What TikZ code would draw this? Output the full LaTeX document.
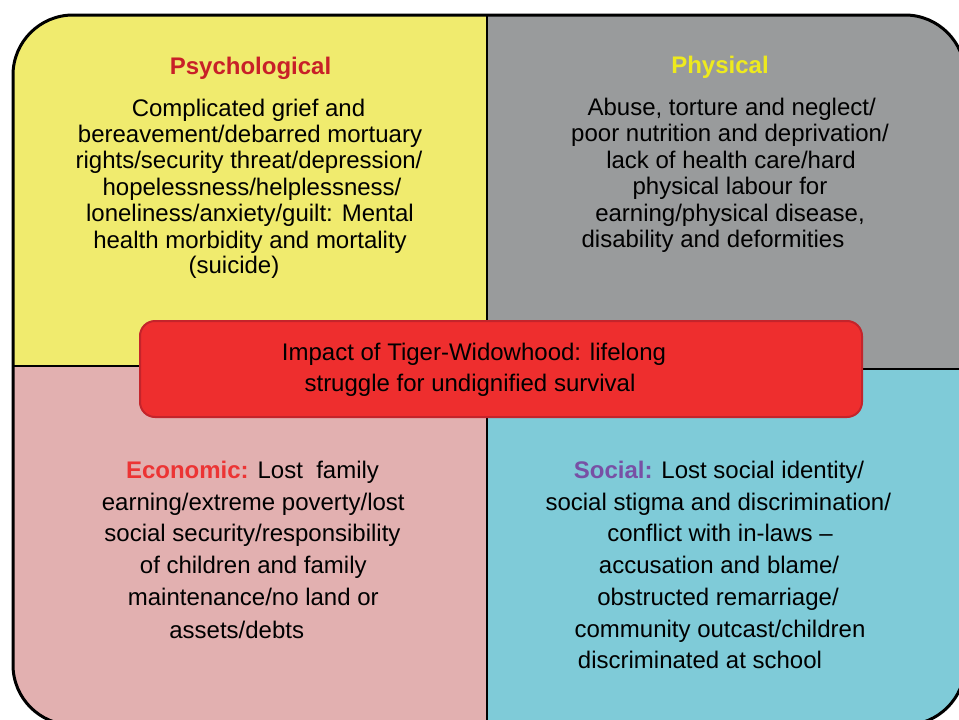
\documentclass[tikz,border=0pt]{standalone}
\usepackage{fontspec}
\setmainfont{Liberation Sans}
\definecolor{qyellow}{RGB}{240,235,110}
\definecolor{qgray}{RGB}{153,155,156}
\definecolor{qpink}{RGB}{226,176,176}
\definecolor{qcyan}{RGB}{127,203,216}
\definecolor{boxred}{RGB}{238,46,46}
\definecolor{boxedge}{RGB}{196,36,43}
\definecolor{psyred}{RGB}{200,32,40}
\definecolor{phyyellow}{RGB}{238,234,30}
\definecolor{ecored}{RGB}{236,52,52}
\definecolor{socpurple}{RGB}{120,80,165}
\begin{document}
\begin{tikzpicture}[x=1pt,y=-1pt,
  txt/.style={anchor=base,inner sep=0pt,font=\fontsize{24}{28}\selectfont},
  ttl/.style={txt,font=\fontsize{24}{28}\selectfont\bfseries},
  divider/.style={line width=2pt,black},
  frameline/.style={line width=3pt,black,rounded corners=60pt}]
\useasboundingbox (0,0) rectangle (959,720);
\clip (0,0) rectangle (959,720);
\begin{scope}
  \clip[rounded corners=60pt] (13,15) rectangle (965,725);
  \fill[qyellow] (13,15) rectangle (487,366);
  \fill[qgray] (487,15) rectangle (965,369);
  \fill[qpink] (13,366) rectangle (487,725);
  \fill[qcyan] (487,369) rectangle (965,725);
  \draw[divider] (487,15) -- (487,725);
  \draw[divider] (13,366) -- (487,366);
  \draw[divider] (487,369) -- (965,369);
\end{scope}
\draw[frameline] (13,15) rectangle (965,725);

% Psychological
\node[ttl,text=psyred] (psyt) at (250.5,74) {Psychological};
\node[txt] (psy1) at (248.5,116) {Complicated grief and};
\node[txt] (psy2) at (250,142.3) {bereavement/debarred mortuary};
\node[txt] (psy3) at (249,168.6) {rights/security threat/depression/};
\node[txt] (psy4) at (252,195) {hopelessness/helplessness/};
\node[txt] (psy5) at (250,221.5) {loneliness/anxiety/guilt: Mental};
\node[txt] (psy6) at (250,248) {health morbidity and mortality};
\node[txt] (psy7) at (234,273.5) {(suicide)};

% Physical
\node[ttl,text=phyyellow] (phyt) at (720,73.3) {Physical};
\node[txt] (phy1) at (731.7,115) {Abuse, torture and neglect/};
\node[txt] (phy2) at (730,141.5) {poor nutrition and deprivation/};
\node[txt] (phy3) at (731,168) {lack of health care/hard};
\node[txt] (phy4) at (730,194.5) {physical labour for};
\node[txt] (phy5) at (730,221) {earning/physical disease,};
\node[txt] (phy6) at (713,247) {disability and deformities};

% Centre box
\node[draw=boxedge,fill=boxred,line width=2pt,rounded corners=15pt,
      minimum width=722pt,minimum height=96pt,inner sep=0pt] (impact) at (501,369) {};
\node[txt] (imp1) at (474,360) {Impact of Tiger-Widowhood: lifelong};
\node[txt] (imp2) at (470,391.7) {struggle for undignified survival};

% Economic
\node[txt] (eco1) at (252.5,478.3) {\textcolor{ecored}{\bfseries Economic:} Lost\ \ family};
\node[txt] (eco2) at (253.3,510) {earning/extreme poverty/lost};
\node[txt] (eco3) at (252.5,541.7) {social security/responsibility};
\node[txt] (eco4) at (253.3,573.3) {of children and family};
\node[txt] (eco5) at (253.3,605) {maintenance/no land or};
\node[txt] (eco6) at (236.7,638) {assets/debts};

% Social
\node[txt] (soc1) at (719,478.3) {\textcolor{socpurple}{\bfseries Social:} Lost social identity/};
\node[txt] (soc2) at (718.3,510) {social stigma and discrimination/};
\node[txt] (soc3) at (720,541.7) {conflict with in-laws –};
\node[txt] (soc4) at (719,573.3) {accusation and blame/};
\node[txt] (soc5) at (718,605) {obstructed remarriage/};
\node[txt] (soc6) at (720,637) {community outcast/children};
\node[txt] (soc7) at (700,668.3) {discriminated at school};
\end{tikzpicture}
\end{document}
